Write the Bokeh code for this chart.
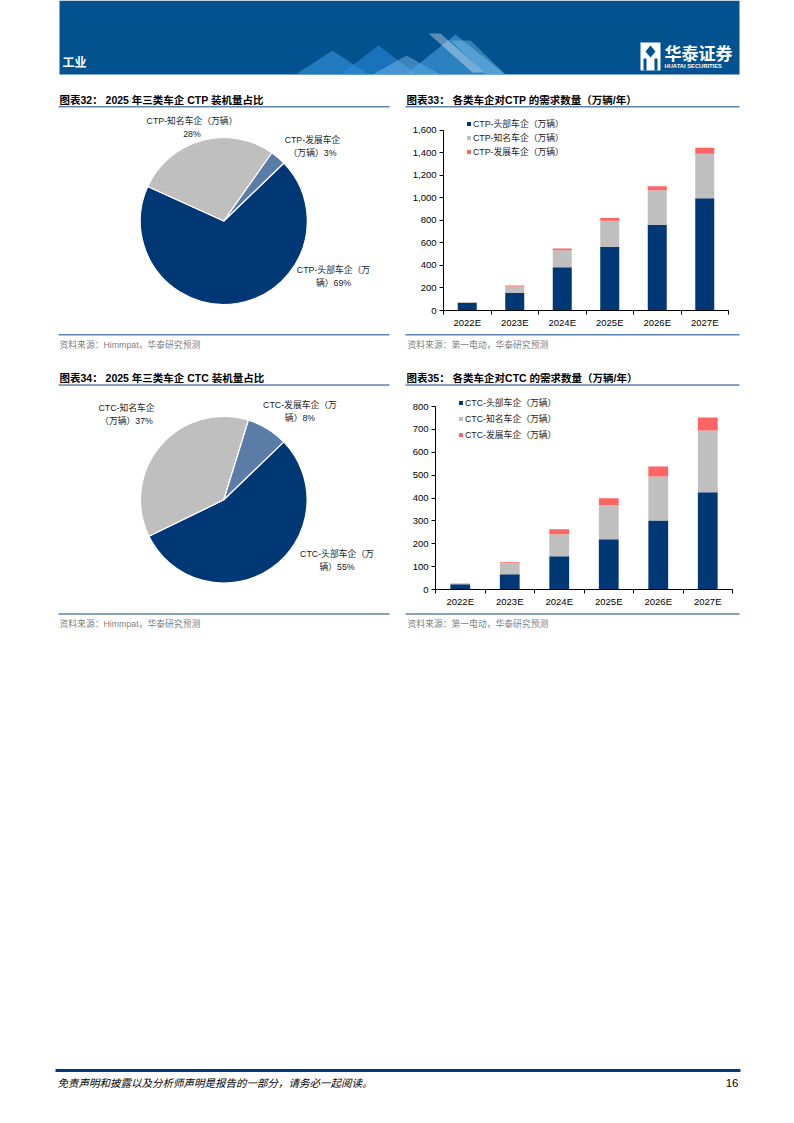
import numpy as np
from bokeh.plotting import figure
from bokeh.layouts import column, row
from bokeh.models import (Range1d, Label, BoxAnnotation, PolyAnnotation, FixedTicker,
                          NumeralTickFormatter, Legend, LegendItem, ColumnDataSource)
from bokeh.core.properties import value
from bokeh.embed import file_html
from bokeh.resources import INLINE

# ---------------- data ----------------
years = ["2022E", "2023E", "2024E", "2025E", "2026E", "2027E"]

ctp_series = ["CTP-头部车企（万辆）", "CTP-知名车企（万辆）", "CTP-发展车企（万辆）"]
ctp_head = [67, 155, 383, 567, 760, 997]
ctp_known = [9, 58, 152, 229, 308, 395]
ctp_dev = [0, 10, 15, 26, 35, 53]
ctp_yticks = [0, 200, 400, 600, 800, 1000, 1200, 1400, 1600]

ctc_series = ["CTC-头部车企（万辆）", "CTC-知名车企（万辆）", "CTC-发展车企（万辆）"]
ctc_head = [23, 67, 145, 220, 302, 425]
ctc_known = [4, 48, 96, 148, 192, 270]
ctc_dev = [0, 4, 22, 31, 44, 57]
ctc_yticks = [0, 100, 200, 300, 400, 500, 600, 700, 800]

ctp_share = [69, 28, 3]          # 头部, 知名, 发展
ctc_share = [55, 37, 8]
ctp_pie_labels = ["CTP-头部车企（万\n辆）{}%", "CTP-知名车企（万辆）\n{}%", "CTP-发展车企\n（万辆）{}%"]
ctc_pie_labels = ["CTC-头部车企（万\n辆）{}%", "CTC-知名车企\n（万辆）{}%", "CTC-发展车企（万\n辆）{}%"]

titles = ["图表32：  2025 年三类车企 CTP 装机量占比",
          "图表33：  各类车企对CTP 的需求数量（万辆/年）",
          "图表34：  2025 年三类车企 CTC 装机量占比",
          "图表35：  各类车企对CTC 的需求数量（万辆/年）"]
sources = ["资料来源：Himmpat，华泰研究预测", "资料来源：第一电动，华泰研究预测"]
footer_text = "免责声明和披露以及分析师声明是报告的一部分，请务必一起阅读。"
page_no = "16"

# ---------------- style ----------------
NAVY = "#003876"
GRAY = "#BFBFBF"
RED = "#FF6464"
STEEL = "#5B7CA6"
LINE = "#6082B2"
BAND = "#02528F"
MIX = "Liberation Sans, Noto Sans CJK SC"
CJK = "Noto Sans CJK SC"


def canvas(x0, y0, w, h):
    p = figure(width=w, height=h, x_range=Range1d(x0, x0 + w), y_range=Range1d(-(y0 + h), -y0),
               output_backend="svg", toolbar_location=None, x_axis_location=None,
               y_axis_location=None, min_border=0, frame_align=False)
    p.grid.visible = False
    p.outline_line_color = None
    p.background_fill_color = "white"
    p.border_fill_color = "white"
    return p


def txt(p, x, y, s, size, color="#000000", font=MIX, style="normal", align="left", baseline="middle"):
    p.add_layout(Label(x=x, y=-y, text=s, text_font=font, text_font_size=f"{size}px",
                       text_color=color, text_font_style=style, text_align=align,
                       text_baseline=baseline))


def box(p, l, r, t, b, color, alpha=1.0):
    p.add_layout(BoxAnnotation(left=l, right=r, top=-t, bottom=-b, fill_color=color,
                               fill_alpha=alpha, line_color=None, line_alpha=0))


def poly(p, xs, ys, color, alpha):
    p.add_layout(PolyAnnotation(xs=xs, ys=[-v for v in ys], fill_color=color, fill_alpha=alpha,
                                line_color=None, line_alpha=0))


def pie(p, cx, cy, r, shares, fmts, label_xy, gap=13.3):
    total = float(sum(shares))
    start = np.radians(44)
    cum = np.cumsum([0] + shares) / total * 2 * np.pi
    src = ColumnDataSource(dict(start=list(start - cum[:-1]), end=list(start - cum[1:]),
                                color=[NAVY, GRAY, STEEL]))
    p.wedge(x=cx, y=-cy, radius=r, start_angle="start", end_angle="end", direction="clock",
            fill_color="color", line_color="white", line_width=1.2, source=src)
    xs, ys, ts = [], [], []
    for f, s, (lx, ly) in zip(fmts, shares, label_xy):
        for k, line in enumerate(f.format(s).split("\n")):
            xs.append(lx)
            ys.append(-(ly + k * gap))
            ts.append(line)
    lab = ColumnDataSource(dict(x=xs, y=ys, t=ts))
    p.text(x="x", y="y", text="t", source=lab, text_font=value(MIX), text_font_size="8.8px",
           text_align="center", text_baseline="middle", text_color="#1a1a1a")


def bar_chart(x0, y0, w, h, borders, head, known, dev, names, yticks, ytop_px,
              leg_loc, leg_spacing):
    bl, br, bt, bb = borders
    frame_h = h - bt - bb
    ymax = yticks[-1] * frame_h / (frame_h - ytop_px)
    p = figure(width=w, height=h, x_range=Range1d(0, len(years)), y_range=Range1d(0, ymax),
               output_backend="svg", toolbar_location=None, frame_align=False,
               min_border_left=bl, min_border_right=br, min_border_top=bt, min_border_bottom=bb)
    p.grid.visible = False
    p.outline_line_color = None
    p.background_fill_color = "white"
    p.border_fill_color = "white"
    src = ColumnDataSource(dict(x=[i + 0.5 for i in range(len(years))], head=head, known=known, dev=dev))
    rs = p.vbar_stack(["head", "known", "dev"], x="x", width=0.4, color=[NAVY, GRAY, RED],
                      line_color=None, source=src)
    xa = p.xaxis[0]
    xa.ticker = FixedTicker(ticks=[i + 0.5 for i in range(len(years))],
                            minor_ticks=list(range(len(years) + 1)))
    xa.major_label_overrides = {i + 0.5: y for i, y in enumerate(years)}
    xa.major_tick_out = 0
    xa.major_tick_in = 0
    xa.minor_tick_out = 4
    xa.minor_tick_in = 0
    xa.minor_tick_line_color = "#000000"
    xa.axis_line_color = "#000000"
    xa.major_label_standoff = 2
    xa.major_label_text_font = MIX
    xa.major_label_text_font_size = "9.5px"
    xa.major_label_text_color = "#000000"
    ya = p.yaxis[0]
    ya.ticker = FixedTicker(ticks=yticks, minor_ticks=[])
    ya.bounds = (yticks[0], yticks[-1])
    ya.formatter = NumeralTickFormatter(format="0,0")
    ya.major_tick_out = 4
    ya.major_tick_in = 0
    ya.major_tick_line_color = "#000000"
    ya.axis_line_color = "#000000"
    ya.major_label_standoff = 3
    ya.major_label_text_font = MIX
    ya.major_label_text_font_size = "9.5px"
    ya.major_label_text_color = "#000000"
    leg = Legend(items=[LegendItem(label=n, renderers=[r]) for n, r in zip(names, rs)],
                 location=leg_loc, orientation="vertical", glyph_width=5, glyph_height=5,
                 label_standoff=2, label_height=10, spacing=leg_spacing, padding=0, margin=0,
                 border_line_color=None, background_fill_alpha=0,
                 label_text_font=MIX, label_text_font_size="8.8px", label_text_color="#1a1a1a")
    p.add_layout(leg)
    return p


# ---------------- top: header + row 1 titles ----------------
top = canvas(0, 0, 794, 112)
box(top, 59, 739, 0, 74, BAND)
# decorative graphic in header
poly(top, [295, 332, 368], [74, 50, 74], "#3d9be6", 0.55)
poly(top, [340, 378, 416], [74, 45, 74], "#2c88da", 0.6)
poly(top, [372, 406, 440], [74, 55, 74], "#7fc2f2", 0.45)
poly(top, [405, 455, 505], [74, 34, 74], "#4fa8ea", 0.55)
poly(top, [428, 440, 484, 472], [33, 33, 72, 72], "#ffffff", 0.35)
poly(top, [450, 470, 505, 485], [40, 40, 74, 74], "#9fd3f7", 0.35)
txt(top, 62, 61, "工业", 12, "#ffffff", CJK, "bold")
# logo
box(top, 640, 660, 42, 70, "#ffffff")
poly(top, [650, 655, 650, 645], [45, 51, 57, 51], BAND, 1.0)
box(top, 643, 646, 58, 70, BAND)
box(top, 654, 657, 58, 70, BAND)
txt(top, 664, 52, "华泰证券", 17, "#ffffff", CJK, "bold")
txt(top, 664, 65.5, "HUATAI SECURITIES", 5.8, "#ffffff", MIX, "bold")
# row 1 titles
txt(top, 59, 99, titles[0], 10.5, "#000000", MIX, "bold")
txt(top, 406, 99, titles[1], 10.5, "#000000", MIX, "bold")
box(top, 58, 389, 105.5, 107, LINE)
box(top, 405, 739, 105.5, 107, LINE)

# ---------------- row 1 charts ----------------
pie1 = canvas(0, 112, 397, 218)
pie(pie1, 223.3, 220.5, 83.5, ctp_share, ctp_pie_labels,
    [(333, 269.3), (191.5, 120), (312, 139.3)])
# frame: top at 114 (1600 at 130 -> 16px above)
bar1 = bar_chart(397, 112, 397, 218, (46, 66, 2, 18), ctp_head, ctp_known, ctp_dev,
                 ctp_series, ctp_yticks, 16, (23, 152), 1)

# ---------------- middle: sources + row 2 titles ----------------
mid = canvas(0, 330, 794, 60)
box(mid, 58, 389, 333.5, 335, LINE)
box(mid, 405, 739, 333.5, 335, LINE)
txt(mid, 59, 344, sources[0], 8.8, "#7f7f7f")
txt(mid, 407, 344, sources[1], 8.8, "#7f7f7f")
txt(mid, 59, 377.5, titles[2], 10.5, "#000000", MIX, "bold")
txt(mid, 406, 377.5, titles[3], 10.5, "#000000", MIX, "bold")
box(mid, 58, 389, 383.8, 385.3, LINE)
box(mid, 405, 739, 383.8, 385.3, LINE)

# ---------------- row 2 charts ----------------
pie2 = canvas(0, 390, 397, 220)
pie(pie2, 223.3, 499.3, 83.3, ctc_share, ctc_pie_labels,
    [(336.5, 553.3), (126, 407.3), (299.5, 404.3)])
# frame: top at 393 (800 at 406 -> 13px above)
bar2 = bar_chart(397, 390, 397, 220, (38, 62, 3, 21), ctc_head, ctc_known, ctc_dev,
                 ctc_series, ctc_yticks, 13, (23, 148.5), 3)

# ---------------- bottom: sources + footer ----------------
bot = canvas(0, 610, 794, 513)
box(bot, 58, 389, 612.8, 614.3, LINE)
box(bot, 405, 739, 612.8, 614.3, LINE)
txt(bot, 59, 623, sources[0], 8.8, "#7f7f7f")
txt(bot, 407, 623, sources[1], 8.8, "#7f7f7f")
box(bot, 55, 740, 1068.5, 1071.5, "#003A7A")
txt(bot, 57, 1082, footer_text, 10.5, "#000000", CJK, "italic")
txt(bot, 738, 1082, page_no, 11.5, "#000000", MIX, "normal", "right")

page = column(top, row(pie1, bar1), mid, row(pie2, bar2), bot, spacing=0)

with open("out.html", "w") as f:
    f.write(file_html(page, INLINE))
